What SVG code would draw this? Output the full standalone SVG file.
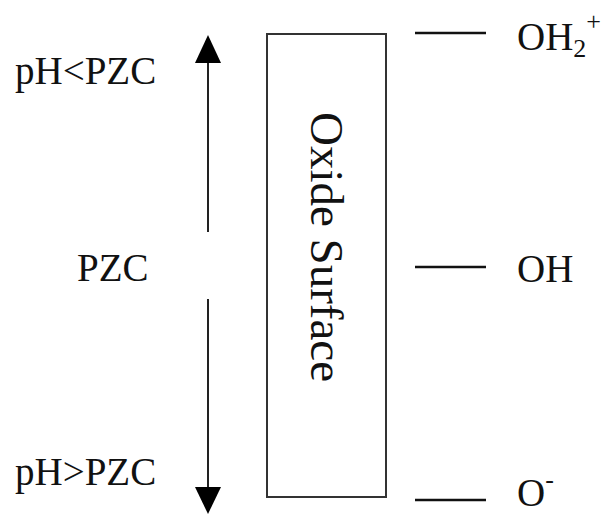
<svg xmlns="http://www.w3.org/2000/svg" width="603" height="515" viewBox="0 0 603 515">
  <style>
    text { font-family: "Liberation Serif", "Times New Roman", serif; fill: #111; }
    .lbl { font-size: 39px; }
    .sub { font-size: 26px; }
    .ln { stroke: #222; stroke-width: 2; fill: none; }
    .tick { stroke: #111; stroke-width: 2.5; fill: none; }
  </style>
  <rect width="603" height="515" fill="#fff"/>

  <!-- pH scale arrows -->
  <g id="connectors">
    <line class="ln" x1="208" y1="60" x2="208" y2="232"/>
    <polygon points="208,35 195,63 221,63" fill="#000"/>
    <line class="ln" x1="208" y1="299" x2="208" y2="490"/>
    <polygon points="208,514 195,487 221,487" fill="#000"/>
    <!-- surface site ticks -->
    <line class="tick" x1="415" y1="33" x2="486" y2="33"/>
    <line class="tick" x1="415" y1="267" x2="486" y2="267"/>
    <line class="tick" x1="415" y1="500" x2="486" y2="500"/>
  </g>

  <g id="surface">
    <rect x="267" y="34" width="119" height="463" fill="#fff" stroke="#333" stroke-width="2"/>
    <text transform="translate(311,247) rotate(90)" text-anchor="middle" style="font-size:47px">Oxide Surface</text>
  </g>

  <g id="ph-labels">
    <text class="lbl" x="15" y="84">pH&lt;PZC</text>
    <text class="lbl" x="77" y="281">PZC</text>
    <text class="lbl" x="15" y="485">pH&gt;PZC</text>
  </g>

  <g id="site-oh2">
    <text class="lbl" x="517" y="50">OH<tspan class="sub" dy="7">2</tspan><tspan class="sub" dy="-27">+</tspan></text>
  </g>
  <g id="site-oh">
    <text class="lbl" x="517" y="282">OH</text>
  </g>
  <g id="site-o">
    <text class="lbl" x="517" y="506">O<tspan class="sub" dy="-18">-</tspan></text>
  </g>
</svg>
